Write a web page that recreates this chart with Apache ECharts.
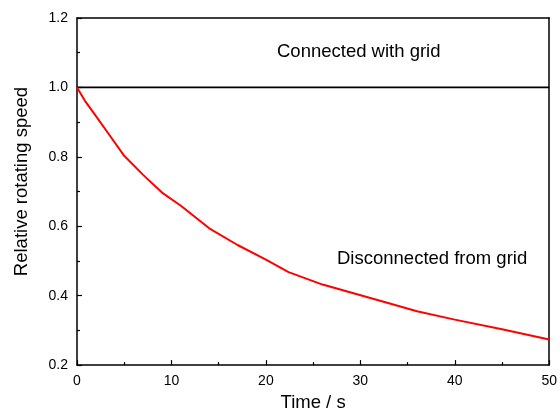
<!DOCTYPE html>
<html>
<head>
<meta charset="utf-8">
<script src="https://cdn.jsdelivr.net/npm/echarts@6/dist/echarts.min.js"></script>
<style>html,body{margin:0;padding:0;background:#fff;}#c{width:560px;height:417px;}</style>
</head>
<body>
<div id="c"></div>
<script>
var timeS = [0, 0.9, 1.8, 3.3, 5, 7, 9, 11, 14, 17, 20, 22.4, 26, 29, 32, 36, 40, 45, 50];
var speedDisconnected = [1.0, 0.959, 0.925, 0.868, 0.803, 0.748, 0.697, 0.659, 0.594, 0.546, 0.504, 0.468, 0.432, 0.409, 0.386, 0.355, 0.331, 0.303, 0.274];
var timeConnected = [0, 50];
var speedConnected = [1.0, 1.0];
var xTicks = [0, 10, 20, 30, 40, 50];
var yTicks = [0.2, 0.4, 0.6, 0.8, 1.0, 1.2];
var labelConnected = 'Connected with grid';
var labelDisconnected = 'Disconnected from grid';

var font = 'Liberation Sans, Arial, sans-serif';
var chart = echarts.init(document.getElementById('c'), null, {renderer: 'canvas'});

function pairs(xs, ys) { return xs.map(function (x, i) { return [x, ys[i]]; }); }

var axisLineStyle = {color: '#000', width: 1.5};
chart.setOption({
  animation: false,
  backgroundColor: '#fff',
  grid: {left: 77, right: 10, top: 18, bottom: 50, containLabel: false},
  xAxis: [{
    type: 'value', min: xTicks[0], max: xTicks[xTicks.length - 1], interval: 10,
    name: 'Time / s', nameLocation: 'middle', nameGap: 25,
    nameTextStyle: {fontFamily: font, fontSize: 18.5, color: '#000'},
    axisLine: {show: true, lineStyle: axisLineStyle},
    axisTick: {show: true, inside: true, length: 5, lineStyle: {color: '#000', width: 1.2}},
    minorTick: {show: true, splitNumber: 2, length: 3, lineStyle: {color: '#000', width: 1.2}},
    axisLabel: {fontFamily: font, fontSize: 14, color: '#000', margin: 9},
    splitLine: {show: false}
  }, {
    type: 'value', position: 'top', min: 0, max: 50,
    axisLine: {show: true, onZero: false, lineStyle: axisLineStyle},
    axisTick: {show: false}, axisLabel: {show: false}, splitLine: {show: false}
  }],
  yAxis: [{
    type: 'value', min: yTicks[0], max: yTicks[yTicks.length - 1], interval: 0.2,
    name: 'Relative rotating speed', nameLocation: 'middle', nameGap: 46,
    nameTextStyle: {fontFamily: font, fontSize: 18.5, color: '#000', padding: [0, 0, 0, 20]},
    axisLine: {show: true, lineStyle: axisLineStyle},
    axisTick: {show: true, inside: true, length: 5, lineStyle: {color: '#000', width: 1.2}},
    minorTick: {show: true, splitNumber: 2, length: 3, lineStyle: {color: '#000', width: 1.2}},
    axisLabel: {fontFamily: font, fontSize: 14, color: '#000', margin: 9,
      formatter: function (v) { return v.toFixed(1); }},
    splitLine: {show: false}
  }, {
    type: 'value', position: 'right', min: 0.2, max: 1.2,
    axisLine: {show: true, onZero: false, lineStyle: axisLineStyle},
    axisTick: {show: false}, axisLabel: {show: false}, splitLine: {show: false}
  }],
  series: [{
    type: 'line', name: 'Connected', data: pairs(timeConnected, speedConnected),
    showSymbol: false, lineStyle: {color: '#000', width: 1.8}, z: 3
  }, {
    type: 'line', name: 'Disconnected', data: pairs(timeS, speedDisconnected),
    showSymbol: false, lineStyle: {color: '#ff0000', width: 2}, z: 4
  }],
  graphic: [{
    type: 'text', left: 277, top: 42,
    style: {text: labelConnected, font: '18.5px ' + font, fill: '#000'}
  }, {
    type: 'text', left: 337, top: 249,
    style: {text: labelDisconnected, font: '18.5px ' + font, fill: '#000'}
  }]
});
</script>
</body>
</html>
